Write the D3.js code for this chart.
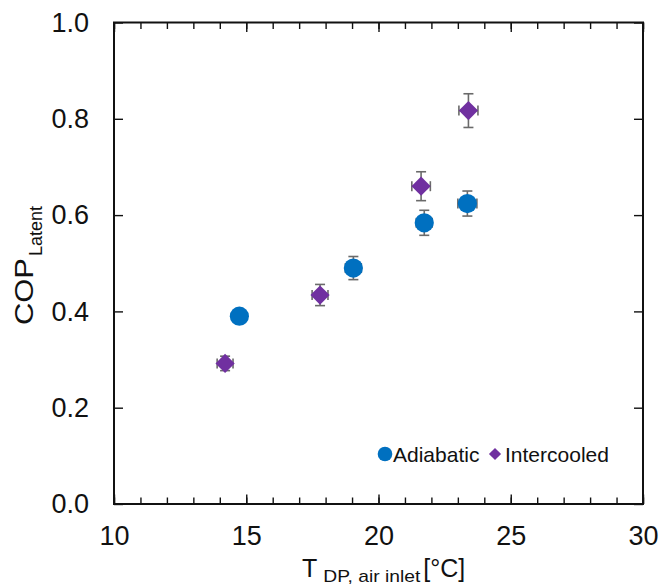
<!DOCTYPE html>
<html>
<head>
<meta charset="utf-8">
<script src="https://cdn.jsdelivr.net/npm/d3@7"></script>
<style>
  html, body { margin: 0; padding: 0; background: #fff; }
  svg { display: block; font-family: Arial, "Liberation Sans", sans-serif; }
</style>
</head>
<body>
<svg id="chart" width="660" height="586"></svg>
<script>
// Latent COP versus air-inlet dew point, two compressor configurations
const adiabaticT      = [14.74, 19.05, 21.73, 23.36];
const adiabaticCOP    = [0.390, 0.490, 0.584, 0.624];
const adiabaticErrT   = [0.20, 0.30, 0.30, 0.36];
const adiabaticErrCOP = [0.012, 0.024, 0.026, 0.026];

const intercooledT      = [14.20, 17.79, 21.61, 23.40];
const intercooledCOP    = [0.292, 0.434, 0.660, 0.817];
const intercooledErrT   = [0.30, 0.30, 0.35, 0.36];
const intercooledErrCOP = [0.015, 0.022, 0.030, 0.035];

const xMajorTicks = [10, 15, 20, 25, 30];
const xMinorTicks = d3.range(10, 31, 1);
const yTicks = [0, 0.2, 0.4, 0.6, 0.8, 1.0];

const seriesNames = ["Adiabatic", "Intercooled"];

const svg = d3.select("#chart");
const plotLeft = 114, plotRight = 643, plotTop = 22.5, plotBottom = 504;

const x = d3.scaleLinear().domain([10, 30]).range([plotLeft, plotRight]);
const y = d3.scaleLinear().domain([0, 1]).range([plotBottom, plotTop]);

const blue = "#0070C0", purple = "#7030A0", errColor = "#6a6a6a";
const ink = "#111";

// --- axes with inward ticks on all four sides ---
function styleAxis(g) {
  g.select(".domain").remove();
  g.selectAll(".tick line").attr("stroke", ink).attr("stroke-width", 1.4);
  g.selectAll(".tick text").attr("fill", ink).attr("font-size", 27)
    .attr("font-family", "Arial, 'Liberation Sans', sans-serif");
}

// bottom minor + major
svg.append("g").attr("transform", `translate(0,${plotBottom})`)
  .call(d3.axisBottom(x).tickValues(xMinorTicks).tickSizeInner(-6.5).tickSizeOuter(0).tickFormat(""))
  .call(styleAxis);
svg.append("g").attr("transform", `translate(0,${plotBottom})`)
  .call(d3.axisBottom(x).tickValues(xMajorTicks).tickSizeInner(-9.5).tickSizeOuter(0)
        .tickPadding(22).tickFormat(d3.format("d")))
  .call(styleAxis);

// top minor + major (no labels)
svg.append("g").attr("transform", `translate(0,${plotTop})`)
  .call(d3.axisTop(x).tickValues(xMinorTicks).tickSizeInner(-6.5).tickSizeOuter(0).tickFormat(""))
  .call(styleAxis);
svg.append("g").attr("transform", `translate(0,${plotTop})`)
  .call(d3.axisTop(x).tickValues(xMajorTicks).tickSizeInner(-9.5).tickSizeOuter(0).tickFormat(""))
  .call(styleAxis);

// left with labels
svg.append("g").attr("transform", `translate(${plotLeft},0)`)
  .call(d3.axisLeft(y).tickValues(yTicks).tickSizeInner(-9).tickSizeOuter(0)
        .tickPadding(25).tickFormat(d3.format(".1f")))
  .call(styleAxis);

// right, ticks only
svg.append("g").attr("transform", `translate(${plotRight},0)`)
  .call(d3.axisRight(y).tickValues(yTicks).tickSizeInner(-9).tickSizeOuter(0).tickFormat(""))
  .call(styleAxis);

// plot frame
svg.append("rect")
  .attr("x", plotLeft).attr("y", plotTop)
  .attr("width", plotRight - plotLeft).attr("height", plotBottom - plotTop)
  .attr("fill", "none").attr("stroke", ink).attr("stroke-width", 2);

// --- error bars ---
function errorBars(xs, ys, ex, ey) {
  const g = svg.append("g").attr("stroke", errColor).attr("stroke-width", 1.6).attr("fill", "none");
  const cap = 5;
  xs.forEach((xv, i) => {
    const cx = x(xv), cy = y(ys[i]);
    const y0 = y(ys[i] - ey[i]), y1 = y(ys[i] + ey[i]);
    const x0 = x(xv - ex[i]), x1 = x(xv + ex[i]);
    g.append("line").attr("x1", cx).attr("x2", cx).attr("y1", y0).attr("y2", y1);
    g.append("line").attr("x1", cx - cap).attr("x2", cx + cap).attr("y1", y0).attr("y2", y0);
    g.append("line").attr("x1", cx - cap).attr("x2", cx + cap).attr("y1", y1).attr("y2", y1);
    g.append("line").attr("x1", x0).attr("x2", x1).attr("y1", cy).attr("y2", cy);
    g.append("line").attr("x1", x0).attr("x2", x0).attr("y1", cy - cap).attr("y2", cy + cap);
    g.append("line").attr("x1", x1).attr("x2", x1).attr("y1", cy - cap).attr("y2", cy + cap);
  });
}
errorBars(adiabaticT, adiabaticCOP, adiabaticErrT, adiabaticErrCOP);
errorBars(intercooledT, intercooledCOP, intercooledErrT, intercooledErrCOP);

// --- markers ---
const circleSym = d3.symbol().type(d3.symbolCircle).size(Math.PI * 9.6 * 9.6);
const diamondSym = d3.symbol().type(d3.symbolSquare).size(13.6 * 13.6);

svg.append("g").selectAll("path")
  .data(d3.zip(adiabaticT, adiabaticCOP))
  .join("path")
  .attr("d", circleSym)
  .attr("transform", d => `translate(${x(d[0])},${y(d[1])})`)
  .attr("fill", blue);

svg.append("g").selectAll("path")
  .data(d3.zip(intercooledT, intercooledCOP))
  .join("path")
  .attr("d", diamondSym)
  .attr("transform", d => `translate(${x(d[0])},${y(d[1])}) rotate(45)`)
  .attr("fill", purple);

// --- legend ---
const lg = svg.append("g").attr("font-size", 21).attr("fill", ink);
lg.append("path").attr("d", d3.symbol().type(d3.symbolCircle).size(Math.PI * 7.3 * 7.3))
  .attr("transform", "translate(385,454)").attr("fill", blue);
lg.append("text").attr("x", 393).attr("y", 461.5).text(seriesNames[0]);
lg.append("path").attr("d", d3.symbol().type(d3.symbolSquare).size(8.6 * 8.6))
  .attr("transform", "translate(495,454) rotate(45)").attr("fill", purple);
lg.append("text").attr("x", 505).attr("y", 461.5).text(seriesNames[1]);

// --- axis titles ---
const xt = svg.append("text").attr("x", 302).attr("y", 577).attr("fill", ink).attr("font-size", 25);
xt.append("tspan").text("T");
xt.append("tspan").attr("font-size", 17).attr("dx", 6).attr("dy", 5)
  .attr("textLength", 97).attr("lengthAdjust", "spacingAndGlyphs").text("DP, air inlet");
xt.append("tspan").attr("dx", 3).attr("dy", -5).text("[°C]");

const yt = svg.append("text").attr("transform", "translate(33,325) rotate(-90)")
  .attr("fill", ink).attr("font-size", 25);
yt.append("tspan").attr("textLength", 67).attr("lengthAdjust", "spacingAndGlyphs").text("COP");
yt.append("tspan").attr("font-size", 18).attr("dx", 2).attr("dy", 8.5)
  .attr("textLength", 50).attr("lengthAdjust", "spacingAndGlyphs").text("Latent");
</script>
</body>
</html>
